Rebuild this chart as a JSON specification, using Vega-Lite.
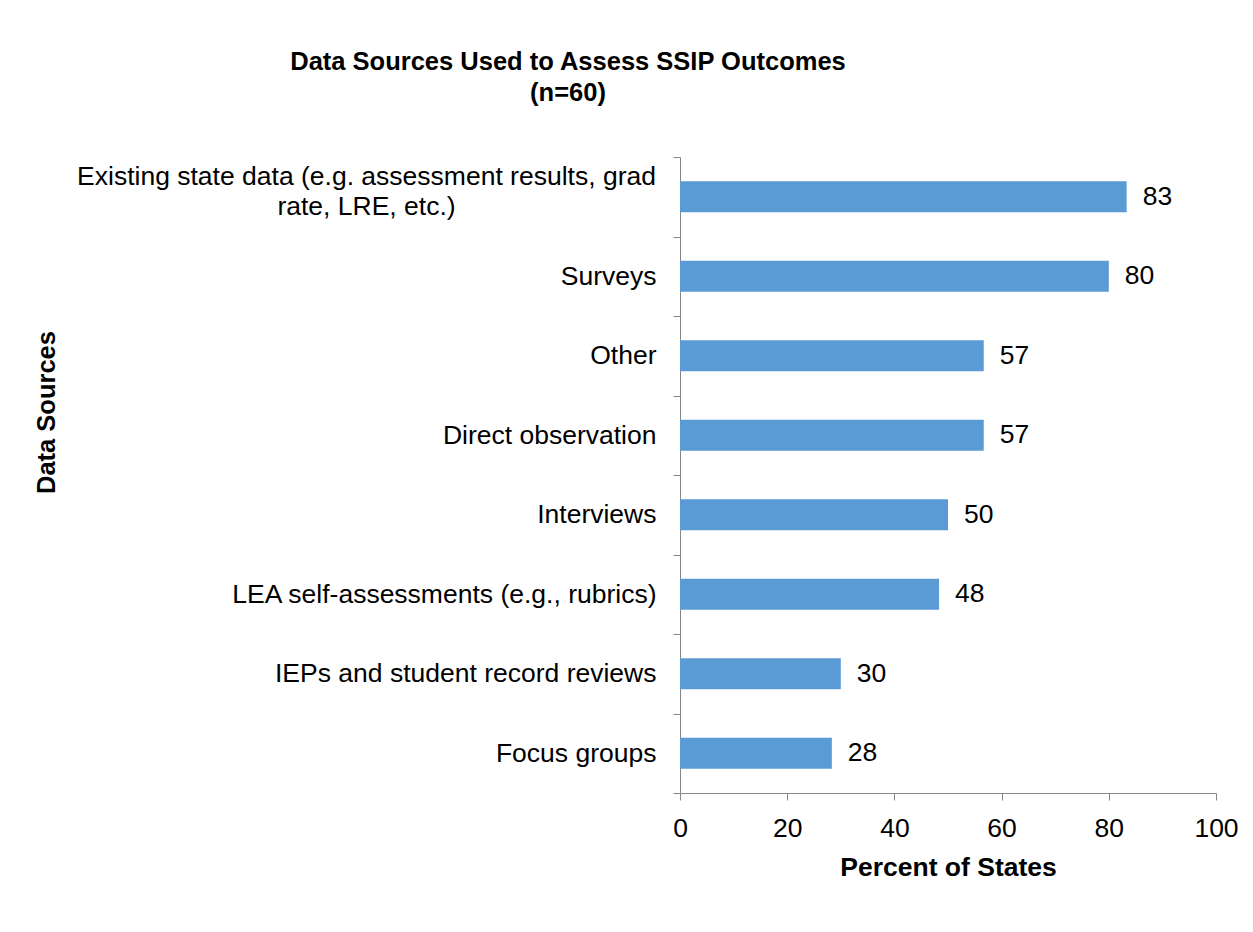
{
  "$schema": "https://vega.github.io/schema/vega-lite/v6.json",
  "autosize": {"type": "none"},
  "width": 536,
  "height": 636,
  "padding": {"left": 680, "top": 157, "right": 37, "bottom": 139},
  "background": "white",
  "config": {
    "font": "Liberation Sans",
    "view": {"stroke": null}
  },
  "title": {
    "text": ["Data Sources Used to Assess SSIP Outcomes", "(n=60)"],
    "fontSize": 25.5,
    "fontWeight": "bold",
    "font": "Liberation Sans",
    "color": "black",
    "lineHeight": 31,
    "anchor": "middle",
    "frame": "group",
    "dx": -380,
    "offset": 38
  },
  "data": {
    "values": [
      {"source": "Existing state data (e.g. assessment results, grad rate, LRE, etc.)", "pct": 83.33},
      {"source": "Surveys", "pct": 80},
      {"source": "Other", "pct": 56.67},
      {"source": "Direct observation", "pct": 56.67},
      {"source": "Interviews", "pct": 50},
      {"source": "LEA self-assessments (e.g., rubrics)", "pct": 48.33},
      {"source": "IEPs and student record reviews", "pct": 30},
      {"source": "Focus groups", "pct": 28.33}
    ]
  },
  "encoding": {
    "y": {
      "field": "source",
      "type": "nominal",
      "sort": null,
      "scale": {"paddingInner": 0, "paddingOuter": 0},
      "axis": {
        "title": "Data Sources",
        "titleFontSize": 25.5,
        "titleFontWeight": "bold",
        "titleColor": "black",
        "titleAngle": 270,
        "titleAlign": "center",
        "titleBaseline": "middle",
        "titleX": -634,
        "titleY": 255,
        "labelFontSize": 26.5,
        "labelColor": "black",
        "labelLimit": 0,
        "labelLineHeight": 30,
        "labelExpr": "datum.value == 'Existing state data (e.g. assessment results, grad rate, LRE, etc.)' ? ['Existing state data (e.g. assessment results, grad', 'rate, LRE, etc.)'] : datum.label",
        "labelAlign": {"condition": {"test": "datum.value == 'Existing state data (e.g. assessment results, grad rate, LRE, etc.)'", "value": "center"}, "value": "right"},
        "labelPadding": {"condition": {"test": "datum.value == 'Existing state data (e.g. assessment results, grad rate, LRE, etc.)'", "value": 307}, "value": 17},
        "labelOffset": {"condition": {"test": "datum.value == 'Existing state data (e.g. assessment results, grad rate, LRE, etc.)'", "value": -20}, "value": 0},
        "labelBaseline": "middle",
        "tickBand": "extent",
        "tickSize": 7,
        "tickColor": "#868686",
        "domainColor": "#868686",
        "domainWidth": 1,
        "grid": false
      }
    },
    "x": {
      "field": "pct",
      "type": "quantitative",
      "scale": {"domain": [0, 100], "nice": false},
      "axis": {
        "title": "Percent of States",
        "titleFontSize": 26.5,
        "titleFontWeight": "bold",
        "titleColor": "black",
        "titlePadding": 13,
        "values": [0, 20, 40, 60, 80, 100],
        "labelFontSize": 26.5,
        "labelColor": "black",
        "labelPadding": 15,
        "labelFlush": false,
        "tickSize": 7,
        "tickColor": "#868686",
        "domainColor": "#868686",
        "grid": false
      }
    }
  },
  "layer": [
    {"mark": {"type": "bar", "color": "#5B9BD5", "height": {"band": 0.39}}},
    {
      "mark": {"type": "text", "align": "left", "baseline": "middle", "dx": 16, "fontSize": 26.5, "color": "black"},
      "encoding": {"text": {"field": "pct", "type": "quantitative", "format": ".0f"}}
    }
  ]
}
